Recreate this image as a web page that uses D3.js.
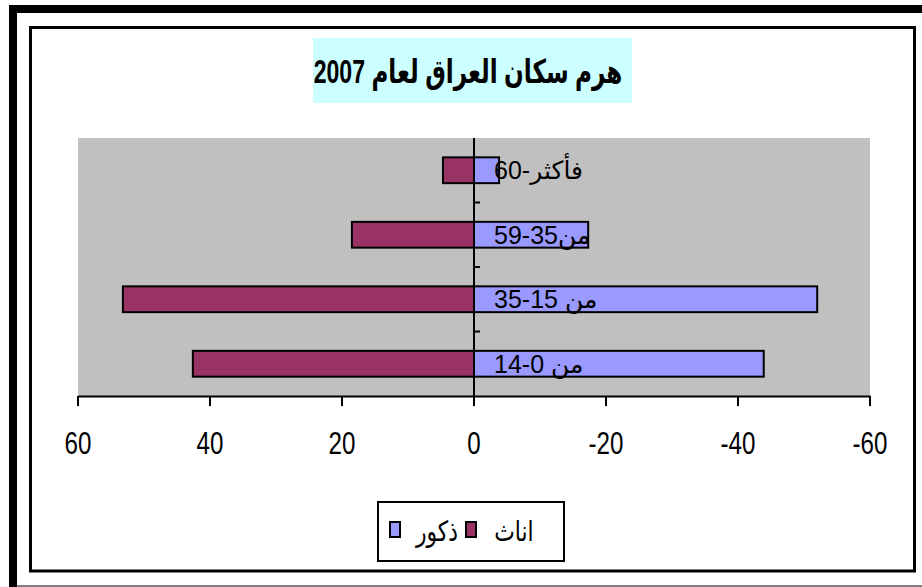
<!DOCTYPE html>
<html>
<head>
<meta charset="utf-8">
<script src="https://cdn.jsdelivr.net/npm/d3@7"></script>
<style>
    body { margin: 0; background: #fff; }
    text { font-family: "Liberation Sans", Arial, "DejaVu Sans", sans-serif; }
</style>
</head>
<body>
<div class="module-graph"></div>
<script>
"use strict"

// data, top row first
const categories = ["فأكثر-60", "من35-59", "من 15-35", "من 0-14"];
const females = [4.7, 18.5, 53.2, 42.6];
const males = [-3.8, -17.3, -52.0, -43.9];
const xTicks = [60, 40, 20, 0, -20, -40, -60];
const seriesNames = ["ذكور", "اناث"];
const title = "هرم سكان العراق لعام 2007";

let width = 922,
    height = 587;
const plot = {left: 78, right: 870, top: 138, bottom: 396};

const svg = d3.select("div.module-graph").append("svg")
    .attr("width", width)
    .attr("height", height);

// frames
svg.append("rect").attr("x", 9).attr("y", 5).attr("width", 913).attr("height", 8).attr("fill", "#000");
svg.append("rect").attr("x", 9).attr("y", 5).attr("width", 8).attr("height", 582).attr("fill", "#000");
svg.append("line").attr("x1", 17).attr("x2", 922).attr("y1", 586).attr("y2", 586)
    .attr("stroke", "#000").attr("stroke-width", 1);
svg.append("rect")
    .attr("x", 30.5).attr("y", 27.5)
    .attr("width", 884).attr("height", 543.5)
    .attr("fill", "#fff")
    .attr("stroke", "#000")
    .attr("stroke-width", 3);

// title
svg.append("rect")
    .attr("x", 313).attr("y", 38)
    .attr("width", 319).attr("height", 65)
    .attr("fill", "#CCFFFF");
svg.append("text")
    .attr("x", 468).attr("y", 83)
    .attr("text-anchor", "middle")
    .attr("transform", "translate(468,0) scale(0.7,1) translate(-468,0)")
    .style("font-weight", "bold")
    .style("font-size", "33px")
    .text(title);

const x = d3.scaleLinear()
    .domain([60, -60])
    .range([plot.left, plot.right]);

const y = d3.scaleBand()
    .domain(categories)
    .range([plot.top, plot.bottom])
    .paddingInner(0.6)
    .paddingOuter(0.3);

// plot area
svg.append("rect")
    .attr("x", plot.left).attr("y", plot.top)
    .attr("width", plot.right - plot.left)
    .attr("height", plot.bottom - plot.top)
    .attr("fill", "#C0C0C0");

// bars
svg.selectAll("rect.female")
    .data(females)
    .enter().append("rect")
    .attr("class", "female")
    .attr("x", d => x(d))
    .attr("y", (d, i) => y(categories[i]))
    .attr("width", d => x(0) - x(d))
    .attr("height", y.bandwidth())
    .attr("fill", "#993366")
    .attr("stroke", "#000")
    .attr("stroke-width", 2);

svg.selectAll("rect.male")
    .data(males)
    .enter().append("rect")
    .attr("class", "male")
    .attr("x", x(0))
    .attr("y", (d, i) => y(categories[i]))
    .attr("width", d => x(d) - x(0))
    .attr("height", y.bandwidth())
    .attr("fill", "#9999FF")
    .attr("stroke", "#000")
    .attr("stroke-width", 2);

// x axis
const xAxis = d3.axisBottom(x)
    .tickValues(xTicks)
    .tickSize(10)
    .tickSizeOuter(0)
    .tickPadding(26)
    .tickFormat(d => String(d));

const gx = svg.append("g")
    .attr("transform", "translate(0," + plot.bottom + ")")
    .call(xAxis);
gx.select(".domain").attr("stroke", "#000").attr("stroke-width", 2);
gx.selectAll(".tick").attr("transform", "translate(0,0)");
gx.selectAll(".tick line")
    .attr("x1", d => x(d)).attr("x2", d => x(d))
    .attr("stroke", "#000").attr("stroke-width", 2);
gx.selectAll(".tick text")
    .attr("fill", "#000")
    .attr("x", d => x(d))
    .attr("transform", d => "translate(" + x(d) + ",0) scale(0.78,1) translate(" + (-x(d)) + ",0)")
    .style("font-size", "31px")
    .style("font-family", "\"Liberation Sans\", Arial, sans-serif");

// category axis at zero
svg.append("line")
    .attr("x1", x(0)).attr("x2", x(0))
    .attr("y1", plot.top).attr("y2", plot.bottom)
    .attr("stroke", "#000").attr("stroke-width", 2);

const catTicks = d3.range(1, categories.length).map(i => plot.top + (plot.bottom - plot.top) * i / categories.length);
svg.selectAll("line.cat-tick")
    .data(catTicks)
    .enter().append("line")
    .attr("class", "cat-tick")
    .attr("x1", x(0)).attr("x2", x(0) + 6)
    .attr("y1", d => d).attr("y2", d => d)
    .attr("stroke", "#000").attr("stroke-width", 2);

svg.selectAll("text.cat")
    .data(categories)
    .enter().append("text")
    .attr("class", "cat")
    .attr("x", x(0) + 20)
    .attr("y", d => y(d) + y.bandwidth() / 2)
    .attr("dy", "0.36em")
    .style("font-size", "25px")
    .text(d => d);

// legend
const legend = svg.append("g");
legend.append("rect")
    .attr("x", 378).attr("y", 502)
    .attr("width", 186).attr("height", 59)
    .attr("fill", "#fff")
    .attr("stroke", "#000")
    .attr("stroke-width", 2);

const legendItems = [
    {name: seriesNames[0], color: "#9999FF", sx: 390, tx: 437},
    {name: seriesNames[1], color: "#993366", sx: 466, tx: 514}
];
legend.selectAll("rect.key")
    .data(legendItems)
    .enter().append("rect")
    .attr("class", "key")
    .attr("x", d => d.sx).attr("y", 522)
    .attr("width", 10).attr("height", 15)
    .attr("fill", d => d.color)
    .attr("stroke", "#000")
    .attr("stroke-width", 2);
legend.selectAll("text.key")
    .data(legendItems)
    .enter().append("text")
    .attr("class", "key")
    .attr("x", d => d.tx).attr("y", 541)
    .attr("text-anchor", "middle")
    .attr("transform", d => "translate(" + d.tx + ",0) scale(0.78,1) translate(" + (-d.tx) + ",0)")
    .style("font-size", "28px")
    .text(d => d.name);
</script>
</body>
</html>
